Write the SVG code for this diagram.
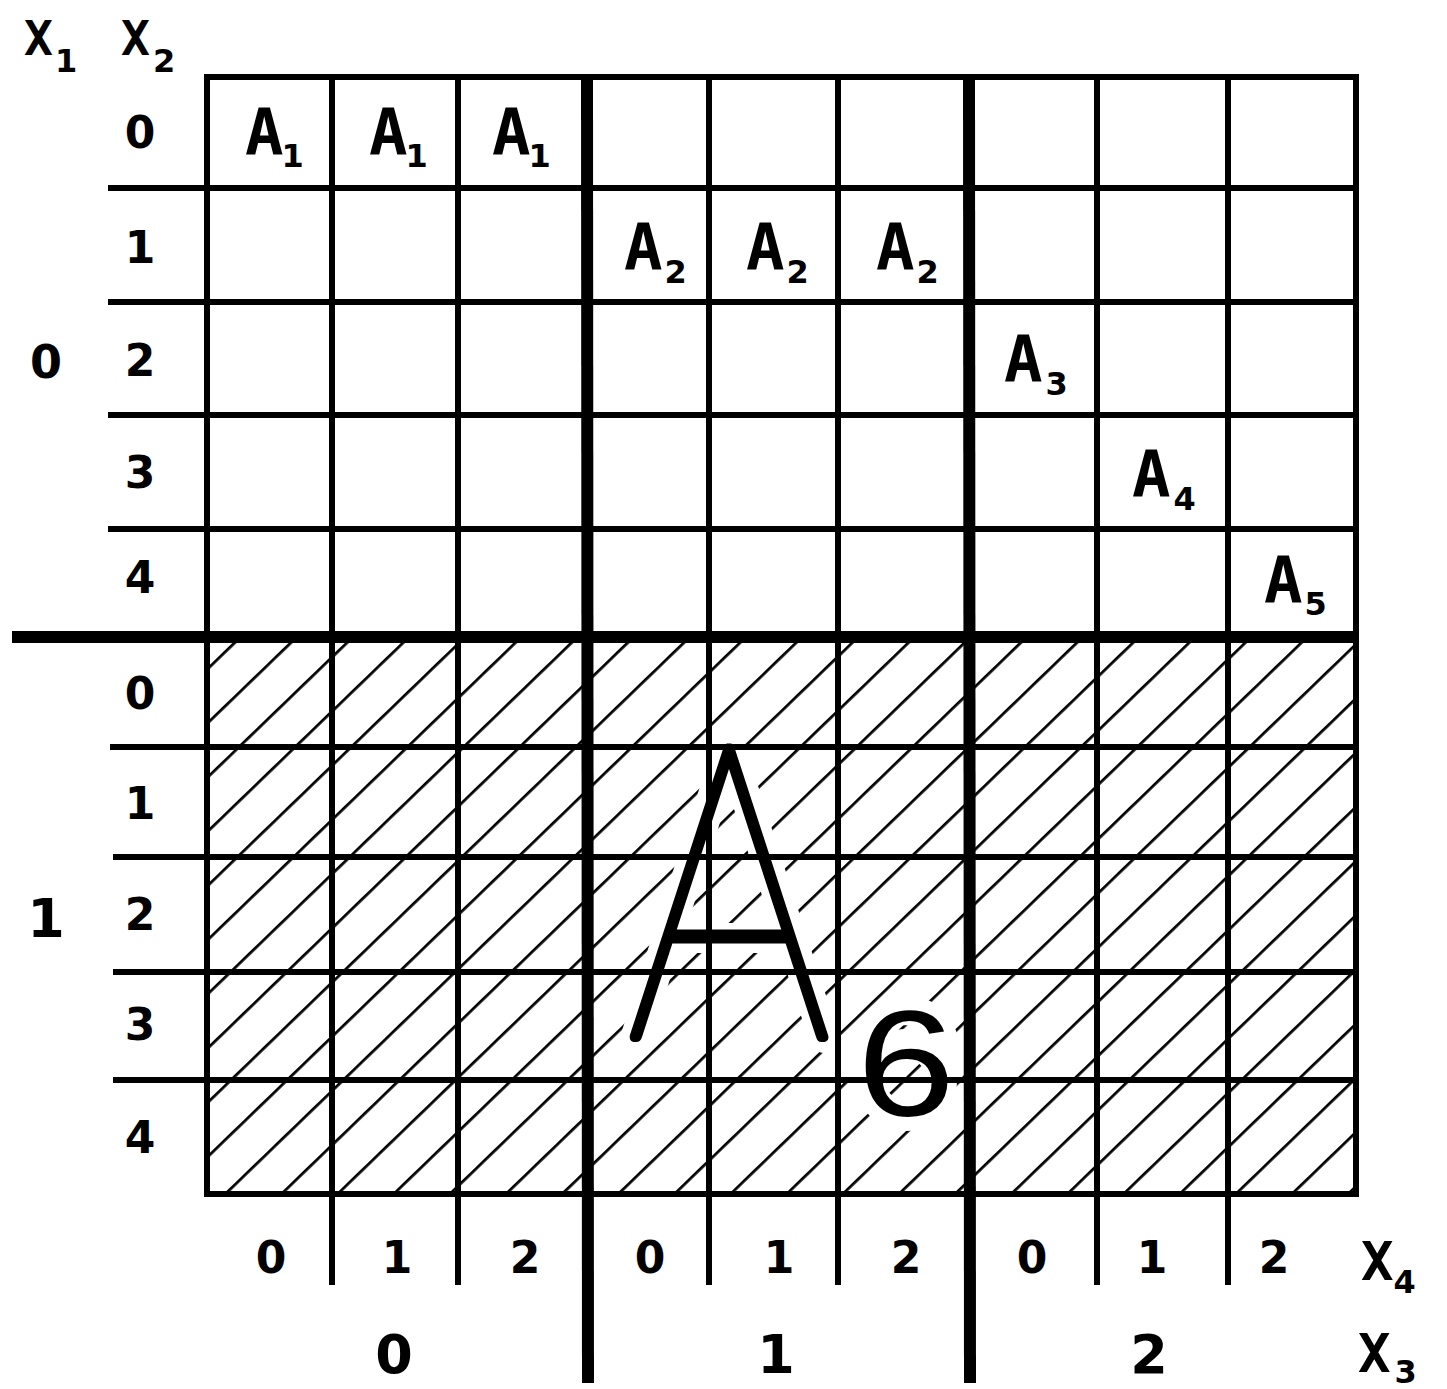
<svg xmlns="http://www.w3.org/2000/svg" width="1447" height="1389" viewBox="0 0 1447 1389">
  <style>
    .thin { stroke: #000; stroke-width: 6; fill: none; }
    .thick { stroke: #000; stroke-width: 12; fill: none; }
    .lbl { font-family: "DejaVu Sans", "Liberation Sans", sans-serif; font-weight: bold; fill: #000; text-anchor: middle; }
    .cell { font-family: "DejaVu Sans Mono", "DejaVu Sans", monospace; font-weight: bold; font-size: 64px; fill: #000; }
    .sub { font-family: "DejaVu Sans", "Liberation Sans", sans-serif; font-weight: bold; font-size: 32px; }
    .axis { font-family: "DejaVu Sans Mono", "DejaVu Sans", monospace; font-weight: bold; fill: #000; }
    .big { font-family: Lato, "DejaVu Sans", sans-serif; font-weight: 200; fill: #000; stroke: #000; stroke-linejoin: round; stroke-linecap: round; text-anchor: middle; }
    .halo { stroke: #000; stroke-width: 30; fill: none; stroke-linecap: round; stroke-linejoin: round; }
  </style>
  <defs>
    <pattern id="hatch" patternUnits="userSpaceOnUse" width="39" height="39" patternTransform="rotate(46)">
      <line x1="0" y1="-5" x2="0" y2="44" stroke="#000" stroke-width="5.5"/>
    </pattern>
    <mask id="haloMask" maskUnits="userSpaceOnUse" x="0" y="0" width="1447" height="1389">
      <rect x="0" y="0" width="1447" height="1389" fill="#fff"/>
      <polyline class="halo" points="636,1036 729,745 824,1038"/>
      <line class="halo" x1="668" y1="938" x2="792" y2="938"/>
      <path class="halo" d="M 942,1036 Q 930,1010 903,1010 Q 867,1012 864,1075"/>
      <circle class="halo" cx="906" cy="1080" r="36"/>
    </mask>
  </defs>
  <rect x="0" y="0" width="1447" height="1389" fill="#fff"/>

  <g id="hatched-region">
    <rect x="207" y="637" width="1149" height="557" fill="url(#hatch)" mask="url(#haloMask)"/>
  </g>

  <g id="grid">
    <line class="thin" x1="204" y1="77" x2="1359" y2="77"/>
    <line class="thin" x1="108" y1="188" x2="1359" y2="188"/>
    <line class="thin" x1="108" y1="302" x2="1359" y2="302"/>
    <line class="thin" x1="108" y1="415" x2="1359" y2="415"/>
    <line class="thin" x1="108" y1="529" x2="1359" y2="529"/>
    <line class="thick" x1="12" y1="637" x2="1359" y2="637"/>
    <line class="thin" x1="110" y1="747" x2="1359" y2="747"/>
    <line class="thin" x1="113" y1="857" x2="1359" y2="857"/>
    <line class="thin" x1="113" y1="972" x2="1359" y2="972"/>
    <line class="thin" x1="113" y1="1080" x2="1359" y2="1080"/>
    <line class="thin" x1="204" y1="1194" x2="1359" y2="1194"/>

    <line class="thin" x1="207" y1="74" x2="207" y2="1197"/>
    <line class="thin" x1="332" y1="74" x2="332" y2="1285"/>
    <line class="thin" x1="458" y1="74" x2="458" y2="1285"/>
    <line class="thick" x1="587" y1="74" x2="588" y2="1383"/>
    <line class="thin" x1="709" y1="74" x2="709" y2="1285"/>
    <line class="thin" x1="838" y1="74" x2="838" y2="1285"/>
    <line class="thick" x1="969" y1="74" x2="970" y2="1383"/>
    <line class="thin" x1="1097" y1="74" x2="1097" y2="1285"/>
    <line class="thin" x1="1228" y1="74" x2="1228" y2="1285"/>
    <line class="thin" x1="1356" y1="74" x2="1356" y2="1197"/>
  </g>

  <g id="axis-titles">
    <text class="axis" x="24" y="55" font-size="48">X<tspan class="sub" font-size="36" dy="17" dx="2">1</tspan></text>
    <text class="axis" x="121" y="55" font-size="48">X<tspan class="sub" font-size="34" dy="17" dx="3">2</tspan></text>
    <text class="axis" x="1361" y="1280" font-size="54">X<tspan class="sub" font-size="36" dy="13" dx="0">4</tspan></text>
    <text class="axis" x="1358" y="1372" font-size="54">X<tspan class="sub" font-size="40" dy="11" dx="4">3</tspan></text>
  </g>

  <g id="x1-labels">
    <text class="lbl" x="46" y="378" font-size="46">0</text>
    <text class="lbl" x="46" y="937" font-size="54">1</text>
  </g>

  <g id="x2-labels">
    <text class="lbl" x="140" y="148" font-size="44">0</text>
    <text class="lbl" x="140" y="263" font-size="44">1</text>
    <text class="lbl" x="140" y="376" font-size="44">2</text>
    <text class="lbl" x="140" y="488" font-size="44">3</text>
    <text class="lbl" x="140" y="593" font-size="44">4</text>
    <text class="lbl" x="140" y="709" font-size="44">0</text>
    <text class="lbl" x="140" y="819" font-size="44">1</text>
    <text class="lbl" x="140" y="930" font-size="44">2</text>
    <text class="lbl" x="140" y="1040" font-size="44">3</text>
    <text class="lbl" x="140" y="1153" font-size="44">4</text>
  </g>

  <g id="x4-labels">
    <text class="lbl" x="271" y="1273" font-size="44">0</text>
    <text class="lbl" x="397" y="1273" font-size="44">1</text>
    <text class="lbl" x="525" y="1273" font-size="44">2</text>
    <text class="lbl" x="650" y="1273" font-size="44">0</text>
    <text class="lbl" x="779" y="1273" font-size="44">1</text>
    <text class="lbl" x="906" y="1273" font-size="44">2</text>
    <text class="lbl" x="1032" y="1273" font-size="44">0</text>
    <text class="lbl" x="1152" y="1273" font-size="44">1</text>
    <text class="lbl" x="1274" y="1273" font-size="44">2</text>
  </g>

  <g id="x3-labels">
    <text class="lbl" x="394" y="1373" font-size="54">0</text>
    <text class="lbl" x="776" y="1373" font-size="54">1</text>
    <text class="lbl" x="1149" y="1373" font-size="54">2</text>
  </g>

  <g id="cell-A1a"><text class="cell" x="245" y="155">A<tspan class="sub" dy="12" dx="-2">1</tspan></text></g>
  <g id="cell-A1b"><text class="cell" x="369" y="155">A<tspan class="sub" dy="12" dx="-2">1</tspan></text></g>
  <g id="cell-A1c"><text class="cell" x="492" y="155">A<tspan class="sub" dy="12" dx="-2">1</tspan></text></g>
  <g id="cell-A2a"><text class="cell" x="624" y="270">A<tspan class="sub" dy="13" dx="2">2</tspan></text></g>
  <g id="cell-A2b"><text class="cell" x="746" y="270">A<tspan class="sub" dy="13" dx="2">2</tspan></text></g>
  <g id="cell-A2c"><text class="cell" x="876" y="270">A<tspan class="sub" dy="13" dx="2">2</tspan></text></g>
  <g id="cell-A3"><text class="cell" x="1004" y="382">A<tspan class="sub" dy="13" dx="3">3</tspan></text></g>
  <g id="cell-A4"><text class="cell" x="1132" y="497">A<tspan class="sub" dy="13" dx="3">4</tspan></text></g>
  <g id="cell-A5"><text class="cell" x="1264" y="603">A<tspan class="sub" dy="12" dx="2">5</tspan></text></g>

  <g id="region-A6">
    <text class="big" x="0" y="0" transform="translate(729,1037) scale(0.78,1)" font-size="412" stroke-width="10">A</text>
    <text x="0" y="0" transform="translate(906,1116) scale(1.18,1)" font-family="'Liberation Sans', Arial, sans-serif" font-size="150" text-anchor="middle" fill="#000">6</text>
  </g>
</svg>
